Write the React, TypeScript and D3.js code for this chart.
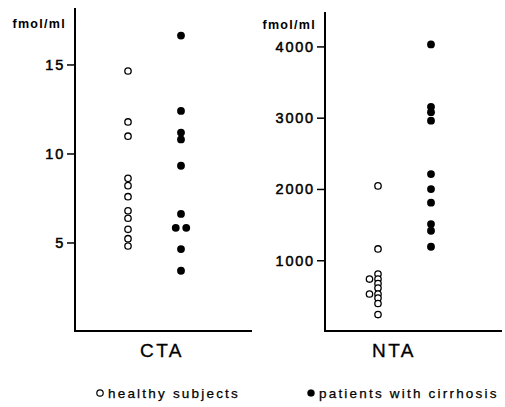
import React from 'react';
import * as d3 from 'd3';

// groups shown in each panel
const groups = ['healthy', 'cirrhosis'];

// CTA values (fmol/ml)
const ctaHealthy = [14.66, 11.8, 11.0, 8.63, 8.22, 7.6, 6.81, 6.39, 5.77, 5.24, 4.83];
const ctaCirrhosis = [16.65, 12.42, 11.2, 10.82, 9.34, 6.63, 5.85, 5.85, 4.66, 3.44];
const ctaTicks = [5, 10, 15];

// NTA values (fmol/ml)
const ntaHealthy = [2050, 1165, 813, 743, 743, 680, 617, 533, 533, 477, 400, 245];
const ntaCirrhosis = [4035, 3160, 3085, 2965, 2216, 2006, 1814, 1515, 1421, 1196];
const ntaTicks = [1000, 2000, 3000, 4000];

const unit = 'fmol/ml';
const legendLabels = ['healthy subjects', 'patients with cirrhosis'];

const FONT = '"Liberation Sans", Arial, Helvetica, sans-serif';
const W = 505;
const H = 407;
const Y_BOTTOM = 332;
const X_AXIS_Y = 331;

type PanelProps = {
  name: string;
  axisX: number;
  top: number;
  yMax: number;
  ticks: number[];
  healthy: number[];
  cirrhosis: number[];
  labelDx: number;
  unitY: number;
  // which way a pair of equal values is spread
  dodge: { healthy: 'center' | 'left'; cirrhosis: 'center' | 'left' };
};

// spread equal values sideways so they do not sit on top of each other
const dodgeOffsets = (values: number[], mode: 'center' | 'left') => {
  const seen = new Map<number, number>();
  const counts = d3.rollup(values, (v) => v.length, (d) => d);
  return values.map((v) => {
    const n = counts.get(v) || 1;
    const i = seen.get(v) || 0;
    seen.set(v, i + 1);
    if (n === 1) return 0;
    if (mode === 'center') return (i - (n - 1) / 2) * 10.5;
    return -i * 8.5;
  });
};

const Panel = ({ name, axisX, top, yMax, ticks, healthy, cirrhosis, labelDx, unitY, dodge }: PanelProps) => {
  const y = d3.scaleLinear().domain([0, yMax]).range([Y_BOTTOM, top]);
  const x = d3.scalePoint<string>().domain(groups).range([axisX + 53, axisX + 106]);
  const right = axisX + 177;

  const hOff = dodgeOffsets(healthy, dodge.healthy);
  const cOff = dodgeOffsets(cirrhosis, dodge.cirrhosis);

  return (
    <g>
      {/* axes */}
      <path
        d={['M', axisX, top, 'V', X_AXIS_Y, 'H', right].join(' ')}
        fill="none"
        stroke="#000"
        strokeWidth={2}
      />
      <text
        x={axisX - 9}
        y={unitY}
        textAnchor="end"
        fontFamily={FONT}
        fontWeight="bold"
        fontSize={12.5}
        letterSpacing={1.3}
      >
        {unit}
      </text>
      {ticks.map((t) => (
        <g key={t} transform={`translate(0, ${y(t)})`}>
          <line x1={axisX - 8} x2={axisX} stroke="#000" strokeWidth={1.5} />
          <text
            x={axisX - 10}
            y={5}
            textAnchor="end"
            fontFamily={FONT}
            fontSize={14.5}
            letterSpacing={1.8}
            stroke="#000"
            strokeWidth={0.5}
          >
            {t}
          </text>
        </g>
      ))}

      {/* points */}
      {healthy.map((v, i) => (
        <circle
          key={'h' + i}
          cx={(x('healthy') as number) + hOff[i]}
          cy={y(v)}
          r={3.2}
          fill="#fff"
          stroke="#000"
          strokeWidth={1.3}
        />
      ))}
      {cirrhosis.map((v, i) => (
        <circle key={'c' + i} cx={(x('cirrhosis') as number) + cOff[i]} cy={y(v)} r={3.9} fill="#000" />
      ))}

      <text
        x={axisX + labelDx}
        y={357}
        textAnchor="middle"
        fontFamily={FONT}
        fontSize={19}
        letterSpacing={2.5}
        stroke="#000"
        strokeWidth={0.3}
      >
        {name}
      </text>
    </g>
  );
};

export default function App() {
  return (
    <svg
      width={W}
      height={H}
      viewBox={`0 0 ${W} ${H}`}
      style={{ position: 'absolute', left: 0, top: 0, background: '#fff' }}
    >
      <Panel
        name="CTA"
        axisX={75}
        top={8}
        yMax={18.2}
        ticks={ctaTicks}
        healthy={ctaHealthy}
        cirrhosis={ctaCirrhosis}
        labelDx={87}
        unitY={28}
        dodge={{ healthy: 'center', cirrhosis: 'center' }}
      />
      <Panel
        name="NTA"
        axisX={325}
        top={12}
        yMax={4490}
        ticks={ntaTicks}
        healthy={ntaHealthy}
        cirrhosis={ntaCirrhosis}
        labelDx={69}
        unitY={29}
        dodge={{ healthy: 'left', cirrhosis: 'center' }}
      />

      {/* legend */}
      <g fontFamily={FONT} fontSize={13.5} letterSpacing={2.2} stroke="#000" strokeWidth={0.25}>
        <circle cx={100} cy={393} r={3.2} fill="#fff" stroke="#000" strokeWidth={1.2} />
        <text x={108} y={398}>{legendLabels[0]}</text>
        <circle cx={311} cy={393} r={3.6} fill="#000" />
        <text x={319} y={398}>{legendLabels[1]}</text>
      </g>
    </svg>
  );
}
